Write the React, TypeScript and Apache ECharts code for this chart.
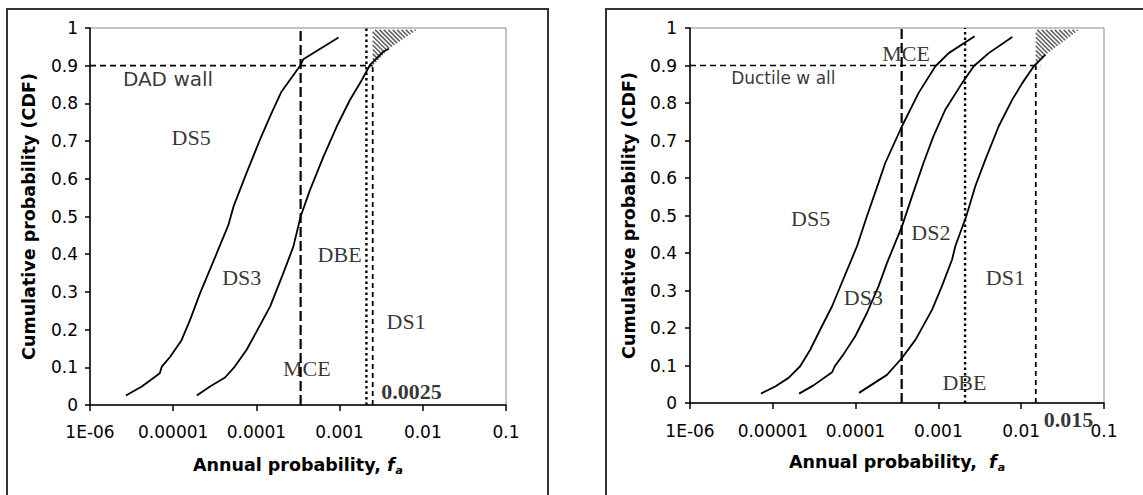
import React, { useEffect, useRef } from "react";
import * as echarts from "echarts";

// ---------- tick labels ----------
const xTickLabels = ["1E-06", "0.00001", "0.0001", "0.001", "0.01", "0.1"];
const yTickLabels = ["0", "0.1", "0.2", "0.3", "0.4", "0.5", "0.6", "0.7", "0.8", "0.9", "1"];

// ---------- left panel (DAD wall) ----------
const leftCurveA: number[][] = [
  [2.7e-6, 0.025], [4.2e-6, 0.049], [6.9e-6, 0.084], [7.3e-6, 0.102], [9.2e-6, 0.128],
  [1.26e-5, 0.172], [1.59e-5, 0.225], [2.1e-5, 0.296], [3.33e-5, 0.402], [4.6e-5, 0.477],
  [5.3e-5, 0.526], [7.6e-5, 0.615], [1.1e-4, 0.703], [1.52e-4, 0.774], [2.0e-4, 0.831],
  [3.4e-4, 0.902], [3.66e-4, 0.917], [9.7e-4, 0.975],
];
const leftCurveB: number[][] = [
  [1.92e-5, 0.025], [2.77e-5, 0.049], [4.2e-5, 0.073], [5.5e-5, 0.102], [7.6e-5, 0.146],
  [1.0e-4, 0.194], [1.46e-4, 0.261], [2.1e-4, 0.349], [2.78e-4, 0.42], [3.4e-4, 0.5],
  [4.4e-4, 0.57], [6.4e-4, 0.659], [9.2e-4, 0.738], [1.33e-3, 0.809], [1.85e-3, 0.862],
  [2.32e-3, 0.902], [3.35e-3, 0.937], [3.9e-3, 0.945],
];
const leftHatch: number[][] = [[0.0025, 0.995], [0.0025, 0.9], [0.0039, 0.945], [0.0085, 0.995]];
const leftMCE = 3.4e-4;
const leftDBE = 0.0021;
const leftLimit = 0.0025;
const leftTarget = 0.9;
const leftLabels: { text: string; x: number; y: number }[] = [
  { text: "DAD wall", x: 8.66e-6, y: 0.865 },
  { text: "DS5", x: 1.64e-5, y: 0.71 },
  { text: "DS3", x: 6.66e-5, y: 0.338 },
  { text: "DBE", x: 1.0e-3, y: 0.399 },
  { text: "MCE", x: 4.03e-4, y: 0.098 },
  { text: "DS1", x: 6.3e-3, y: 0.221 },
  { text: "0.0025", x: 7.3e-3, y: 0.0345 },
];

// ---------- right panel (Ductile wall) ----------
const rightCurveA: number[][] = [
  [7.2e-6, 0.025], [1.07e-5, 0.044], [1.55e-5, 0.067], [2.14e-5, 0.098], [2.83e-5, 0.142],
  [3.9e-5, 0.204], [5.2e-5, 0.258], [6.8e-5, 0.32], [1.04e-4, 0.418], [1.37e-4, 0.498],
  [1.89e-4, 0.587], [2.28e-4, 0.64], [3.63e-4, 0.738], [5.77e-4, 0.827], [9.2e-4, 0.898],
  [1.33e-3, 0.933], [2.74e-3, 0.978],
];
const rightCurveB: number[][] = [
  [2.08e-5, 0.025], [3.1e-5, 0.047], [5.2e-5, 0.082], [5.6e-5, 0.098], [7.1e-5, 0.129],
  [9.9e-5, 0.178], [1.37e-4, 0.24], [1.89e-4, 0.311], [2.39e-4, 0.373], [3.63e-4, 0.471],
  [4.8e-4, 0.551], [6.6e-4, 0.64], [8.7e-4, 0.711], [1.21e-3, 0.782], [1.93e-3, 0.853],
  [2.67e-3, 0.898], [4.05e-3, 0.933], [7.8e-3, 0.976],
];
const rightCurveC: number[][] = [
  [1.1e-4, 0.027], [1.57e-4, 0.049], [2.39e-4, 0.075], [3.63e-4, 0.12], [5.3e-4, 0.169],
  [8.4e-4, 0.249], [1.1e-3, 0.311], [1.46e-3, 0.382], [1.6e-3, 0.418], [2.17e-3, 0.498],
  [2.79e-3, 0.578], [3.69e-3, 0.649], [5.35e-3, 0.738], [7.8e-3, 0.809], [1.03e-2, 0.853],
  [1.42e-2, 0.898], [1.96e-2, 0.929],
];
const rightHatch: number[][] = [[0.015, 0.995], [0.015, 0.9], [0.02, 0.93], [0.05, 0.995]];
const rightMCE = 3.6e-4;
const rightDBE = 0.0021;
const rightLimit = 0.015;
const rightTarget = 0.9;
const rightTargetEnd = 0.017;
const rightLabels: { text: string; x: number; y: number }[] = [
  { text: "Ductile w all", x: 1.34e-5, y: 0.867 },
  { text: "MCE", x: 4.07e-4, y: 0.933 },
  { text: "DS5", x: 2.86e-5, y: 0.491 },
  { text: "DS2", x: 8.1e-4, y: 0.455 },
  { text: "DS3", x: 1.24e-4, y: 0.282 },
  { text: "DS1", x: 6.44e-3, y: 0.335 },
  { text: "DBE", x: 2.06e-3, y: 0.055 },
  { text: "0.015", x: 3.72e-2, y: -0.045 },
];

const SANS = "DejaVu Sans";
const SERIF = "Liberation Serif";

function labelStyle(text: string, panel: number) {
  if (text.indexOf("wall") >= 0 || text.indexOf("w all") >= 0) {
    return { fontFamily: SANS, fontSize: panel === 0 ? 20 : 17, fontWeight: "normal" };
  }
  if (/^[0-9.]+$/.test(text)) {
    return { fontFamily: SERIF, fontSize: 22, fontWeight: "bold" };
  }
  return { fontFamily: SERIF, fontSize: 22, fontWeight: "normal" };
}

function hatchRenderer(poly: number[][]) {
  return (_params: any, api: any) => {
    const pts = poly.map((p) => api.coord(p));
    const g = pts.map((p: number[]) => p[1] - p[0]);
    const cmin = Math.min(...g);
    const cmax = Math.max(...g);
    const step = 4.4;
    const children: any[] = [];
    for (let c = cmin + step / 2; c < cmax; c += step) {
      const xs: number[] = [];
      for (let i = 0; i < pts.length; i++) {
        const p1 = pts[i];
        const p2 = pts[(i + 1) % pts.length];
        const g1 = p1[1] - p1[0];
        const g2 = p2[1] - p2[0];
        if (g1 === g2) continue;
        const t = (c - g1) / (g2 - g1);
        if (t >= 0 && t < 1) xs.push(p1[0] + t * (p2[0] - p1[0]));
      }
      xs.sort((a, b) => a - b);
      for (let k = 0; k + 1 < xs.length; k += 2) {
        children.push({
          type: "line",
          shape: { x1: xs[k], y1: xs[k] + c, x2: xs[k + 1], y2: xs[k + 1] + c },
          style: { stroke: "#606060", lineWidth: 1.5 },
        });
      }
    }
    return { type: "group", children };
  };
}

function panelSeries(
  idx: number,
  curves: number[][][],
  hatch: number[][],
  mce: number,
  dbe: number,
  limit: number,
  target: number,
  targetEnd: number,
  labels: { text: string; x: number; y: number }[]
) {
  const base = { xAxisIndex: idx, yAxisIndex: idx };
  const s: any[] = [];
  s.push({
    ...base,
    type: "custom",
    renderItem: hatchRenderer(hatch),
    data: [hatch[0]],
    silent: true,
    z: 1,
  });
  curves.forEach((c) =>
    s.push({
      ...base,
      type: "line",
      data: c,
      symbol: "none",
      lineStyle: { color: "#000", width: 1.8 },
      silent: true,
      z: 3,
    })
  );
  s.push({
    ...base,
    type: "line",
    data: [[1e-6, target], [targetEnd, target]],
    symbol: "none",
    lineStyle: { color: "#000", width: 1.7, type: [6, 4] },
    silent: true,
    z: 2,
  });
  s.push({
    ...base,
    type: "line",
    data: [[mce, 0], [mce, 1]],
    symbol: "none",
    lineStyle: { color: "#000", width: 2.2, type: [10, 4] },
    silent: true,
    z: 2,
  });
  s.push({
    ...base,
    type: "line",
    data: [[dbe, 0], [dbe, 1]],
    symbol: "none",
    lineStyle: { color: "#000", width: 2.4, type: [2.5, 3] },
    silent: true,
    z: 2,
  });
  s.push({
    ...base,
    type: "line",
    data: [[limit, 0], [limit, target]],
    symbol: "none",
    lineStyle: { color: "#000", width: 1.8, type: [5, 4] },
    silent: true,
    z: 2,
  });
  s.push({
    ...base,
    type: "scatter",
    clip: false,
    silent: true,
    symbolSize: 1,
    itemStyle: { color: "rgba(0,0,0,0)" },
    z: 5,
    data: labels.map((l) => ({
      name: l.text,
      value: [l.x, l.y],
      label: { show: true, position: "inside", formatter: "{b}", color: "#000", ...labelStyle(l.text, idx) },
    })),
  });
  return s;
}

function xAxisDef(idx: number, name: string, labelMargin: number, nameGap: number) {
  return {
    type: "log",
    gridIndex: idx,
    min: 1e-6,
    max: 0.1,
    logBase: 10,
    splitNumber: 5,
    axisLine: { show: true, onZero: false, lineStyle: { color: "#000", width: 1.5 } },
    axisTick: { show: true, inside: false, length: 6, lineStyle: { color: "#000", width: 1.5 } },
    splitLine: { show: false },
    axisLabel: {
      margin: labelMargin,
      color: "#000",
      fontFamily: SANS,
      fontSize: 17,
      formatter: (v: number) => xTickLabels[Math.round(Math.log10(v)) + 6] ?? "",
    },
    name,
    nameLocation: "middle",
    nameGap,
    nameTextStyle: {
      color: "#000",
      fontFamily: SANS,
      fontSize: 17.5,
      fontWeight: "bold",
      rich: {
        f: { fontFamily: SANS, fontSize: 17.5, fontWeight: "bold", fontStyle: "italic", color: "#000" },
        a: {
          fontFamily: SANS,
          fontSize: 11,
          fontWeight: "bold",
          fontStyle: "italic",
          color: "#000",
          padding: [12, 0, 0, 1],
        },
      },
    },
  };
}

function yAxisDef(idx: number, labelMargin: number, nameGap: number) {
  return {
    type: "value",
    gridIndex: idx,
    min: 0,
    max: 1,
    interval: 0.1,
    axisLine: { show: true, onZero: false, lineStyle: { color: "#000", width: 1.5 } },
    axisTick: { show: true, inside: false, length: 5, lineStyle: { color: "#000", width: 1.5 } },
    splitLine: { show: false },
    axisLabel: {
      margin: labelMargin,
      color: "#000",
      fontFamily: SANS,
      fontSize: 17,
      formatter: (v: number) => yTickLabels[Math.round(v * 10)] ?? "",
    },
    name: "Cumulative probability (CDF)",
    nameLocation: "middle",
    nameRotate: 90,
    nameGap,
    nameTextStyle: { color: "#000", fontFamily: SANS, fontSize: 17.5, fontWeight: "bold" },
  };
}

export default function App() {
  const ref = useRef<HTMLDivElement>(null);
  useEffect(() => {
    if (!ref.current) return;
    const chart = echarts.init(ref.current, null, { renderer: "svg" });
    const option: any = {
      animation: false,
      backgroundColor: "#fff",
      grid: [
        { left: 90, top: 28, width: 416, height: 377, show: true, borderColor: "#888", borderWidth: 1, backgroundColor: "transparent" },
        { left: 690, top: 28, width: 414, height: 375, show: true, borderColor: "#888", borderWidth: 1, backgroundColor: "transparent" },
      ],
      xAxis: [
        xAxisDef(0, "Annual probability, {f|f}{a|a}", 18, 48),
        xAxisDef(1, "Annual probability,  {f|f}{a|a}", 19, 47),
      ],
      yAxis: [yAxisDef(0, 12, 52), yAxisDef(1, 13, 52)],
      graphic: [
        { type: "rect", shape: { x: 7, y: 9, width: 541, height: 500 }, style: { fill: "none", stroke: "#333", lineWidth: 2 }, silent: true },
        { type: "rect", shape: { x: 606, y: 9, width: 545, height: 500 }, style: { fill: "none", stroke: "#333", lineWidth: 2 }, silent: true },
      ],
      series: [
        ...panelSeries(0, [leftCurveA, leftCurveB], leftHatch, leftMCE, leftDBE, leftLimit, leftTarget, leftLimit, leftLabels),
        ...panelSeries(1, [rightCurveA, rightCurveB, rightCurveC], rightHatch, rightMCE, rightDBE, rightLimit, rightTarget, rightTargetEnd, rightLabels),
      ],
    };
    chart.setOption(option);
    return () => chart.dispose();
  }, []);
  return (
    <div
      ref={ref}
      style={{ position: "absolute", left: 0, top: 0, width: 1143, height: 495, background: "#fff" }}
    />
  );
}
